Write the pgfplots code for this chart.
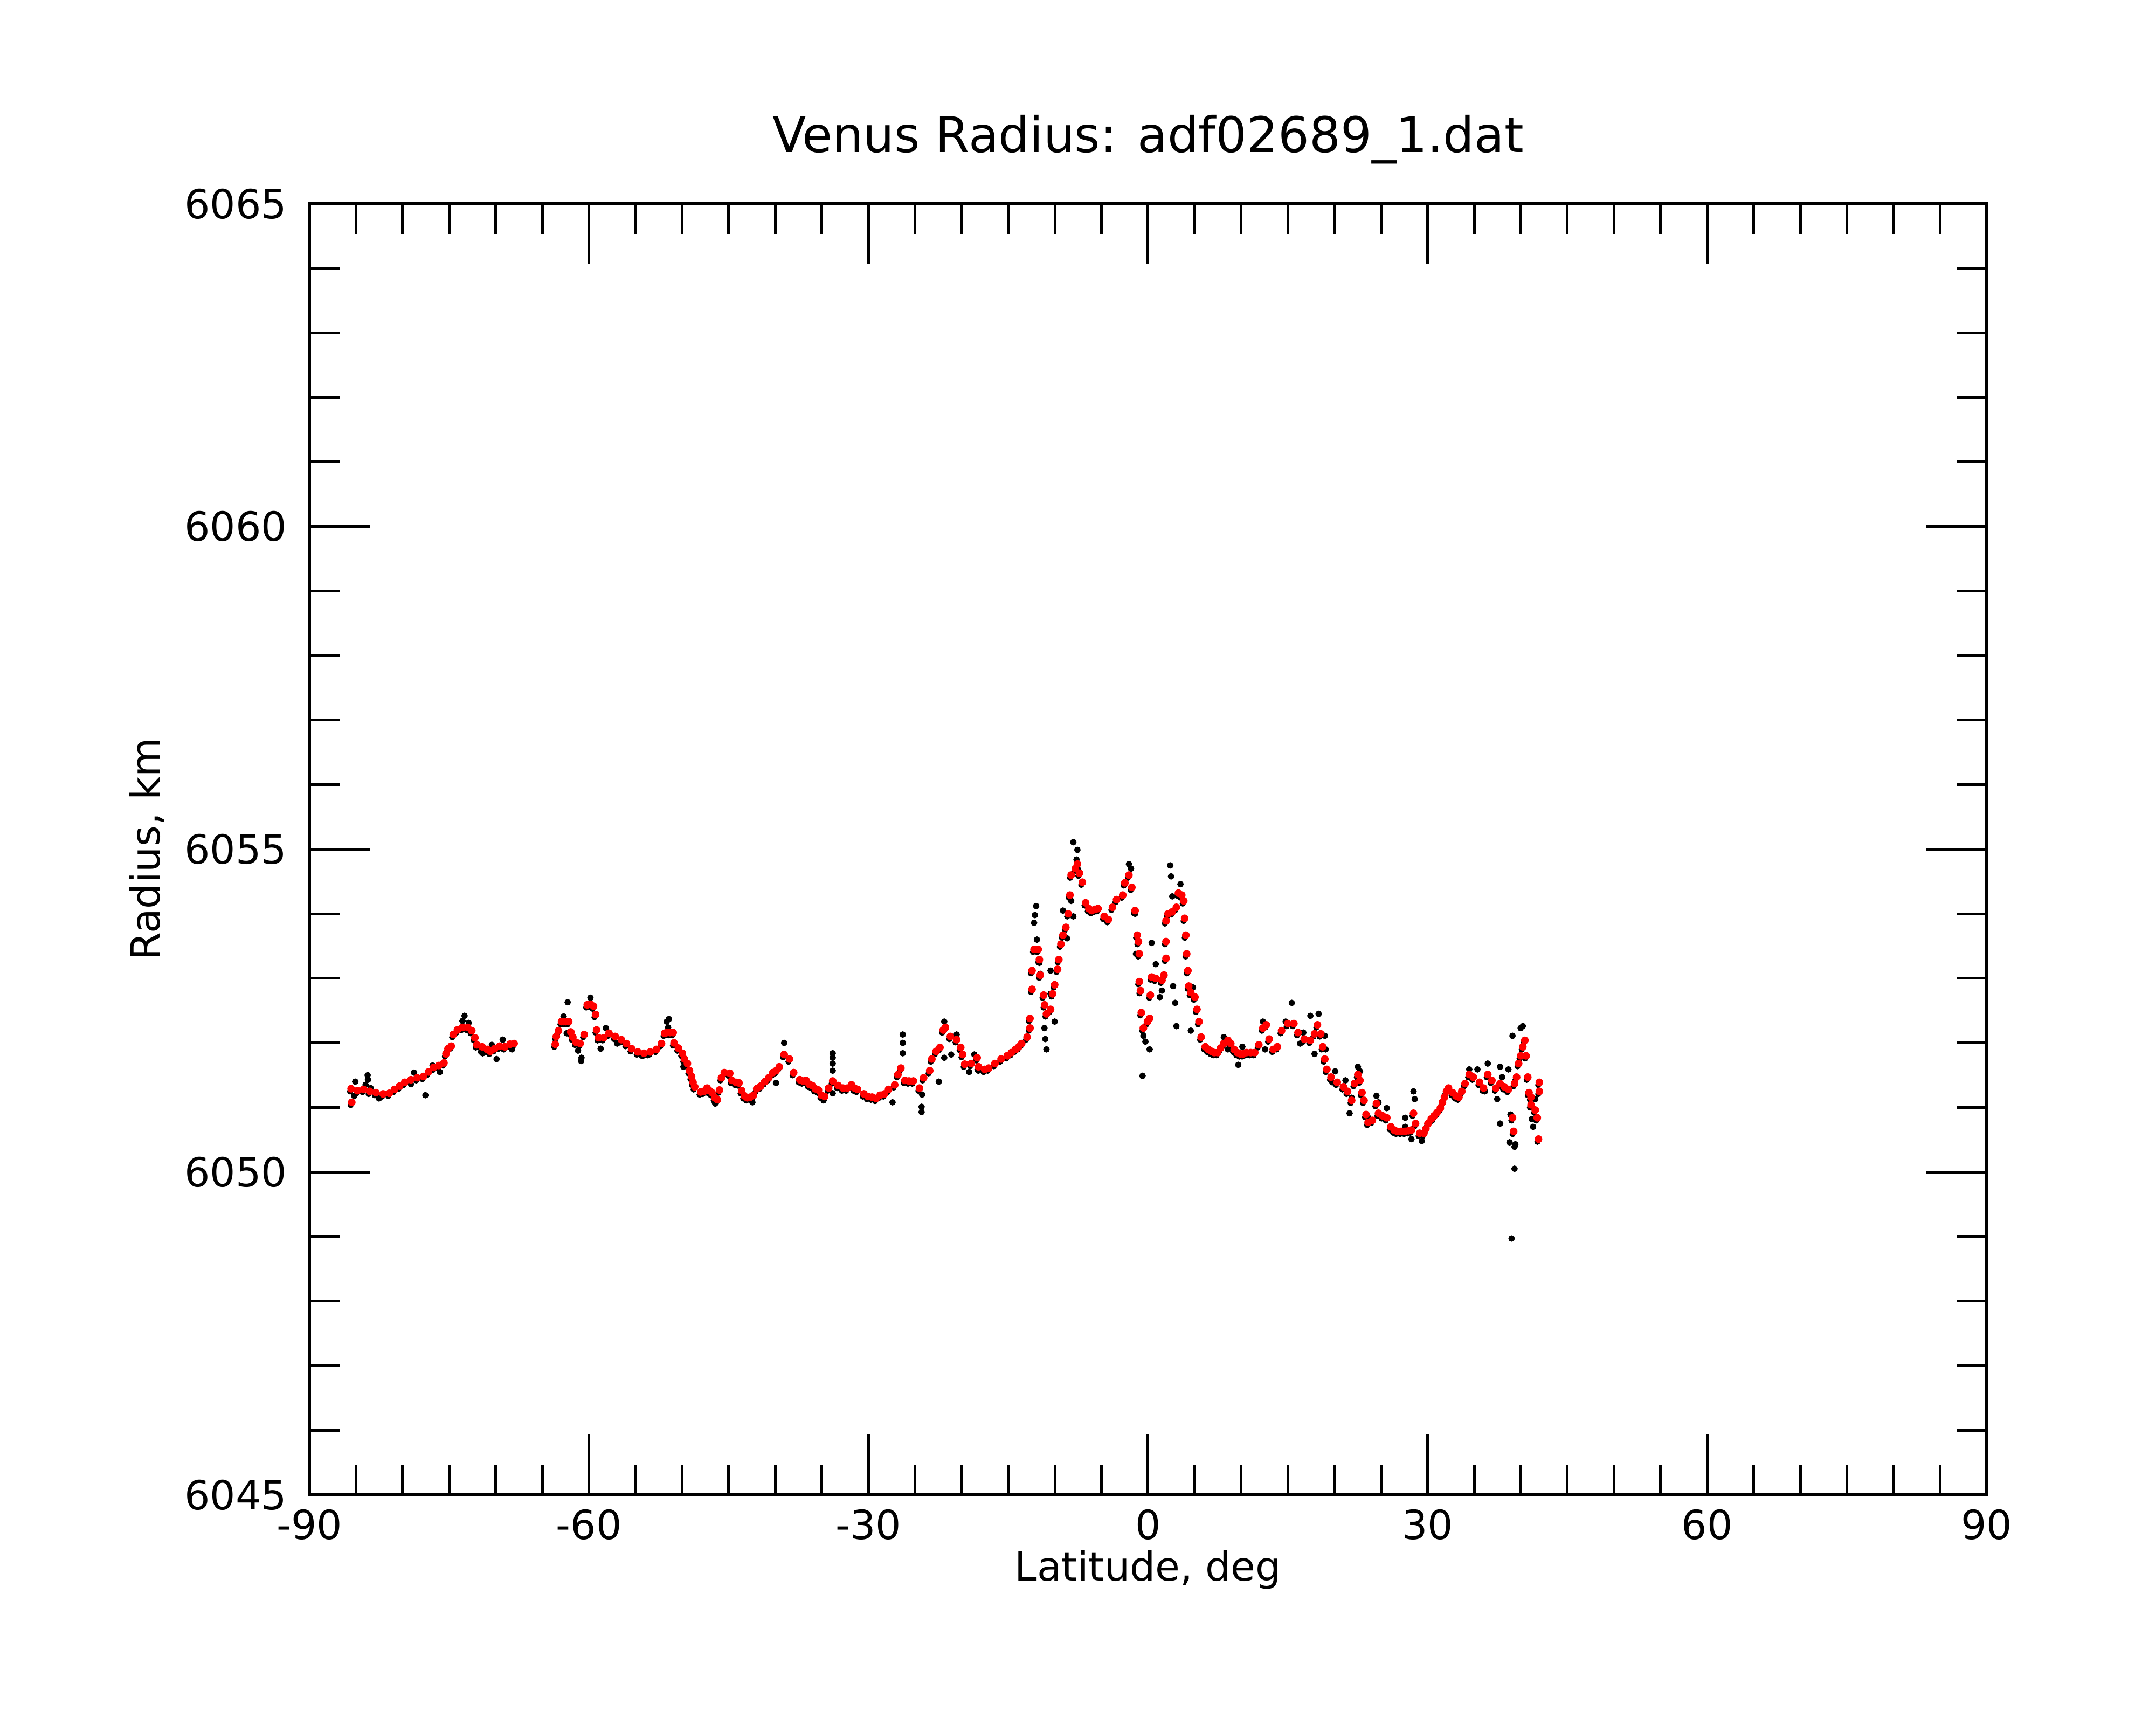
\documentclass[border=0pt]{standalone}
\usepackage{fontspec}
\setmainfont{DejaVu Sans}
\usepackage{pgfplots}
\usepackage{pgfplotstable}
\pgfplotsset{compat=1.18}
\pgfplotstableread{
lat r
-85.45 6051.08
-85.52 6051.29
-84.85 6051.26
-84.19 6051.28
-83.53 6051.25
-82.86 6051.23
-82.09 6051.21
-81.42 6051.22
-80.87 6051.28
-80.32 6051.33
-79.77 6051.39
-79.10 6051.43
-78.43 6051.46
-77.77 6051.48
-77.22 6051.55
-76.67 6051.62
-76.11 6051.65
-75.56 6051.69
-75.34 6051.83
-75.12 6051.91
-74.78 6051.95
-74.56 6052.13
-74.12 6052.20
-73.57 6052.24
-73.01 6052.24
-72.57 6052.19
-72.24 6052.08
-72.02 6051.97
-71.46 6051.94
-70.91 6051.90
-70.58 6051.87
-70.13 6051.91
-69.58 6051.95
-69.03 6051.94
-68.47 6051.98
-68.03 6051.99
-63.61 6051.98
-63.50 6052.10
-63.27 6052.19
-62.94 6052.33
-62.72 6052.33
-62.50 6052.33
-62.17 6052.33
-61.95 6052.17
-61.73 6052.09
-61.39 6052.01
-60.95 6051.99
-60.51 6052.13
-60.18 6052.59
-59.85 6052.60
-59.51 6052.57
-59.29 6052.44
-59.18 6052.20
-58.96 6052.08
-58.41 6052.08
-57.85 6052.15
-57.19 6052.10
-56.52 6052.05
-55.97 6051.99
-55.42 6051.91
-54.75 6051.86
-54.09 6051.84
-53.42 6051.86
-52.76 6051.90
-52.21 6051.99
-51.88 6052.15
-51.65 6052.16
-51.30 6052.16
-50.96 6052.16
-50.87 6052.00
-50.40 6051.92
-49.98 6051.84
-49.76 6051.75
-49.43 6051.68
-49.21 6051.57
-48.99 6051.48
-48.83 6051.39
-48.65 6051.32
-48.01 6051.24
-47.66 6051.25
-47.32 6051.30
-47.06 6051.26
-46.80 6051.23
-46.49 6051.15
-46.22 6051.12
-45.99 6051.27
-45.78 6051.46
-45.47 6051.54
-44.89 6051.53
-44.66 6051.42
-44.23 6051.39
-43.90 6051.38
-43.61 6051.26
-43.33 6051.18
-43.01 6051.15
-42.69 6051.16
-42.35 6051.19
-41.99 6051.29
-41.57 6051.33
-41.13 6051.40
-40.69 6051.46
-40.26 6051.54
-39.91 6051.57
-39.57 6051.63
-39.05 6051.82
-38.47 6051.75
-38.03 6051.54
-37.37 6051.43
-37.04 6051.41
-36.70 6051.42
-36.37 6051.36
-36.04 6051.34
-35.71 6051.29
-35.37 6051.27
-35.04 6051.19
-34.71 6051.17
-34.27 6051.30
-33.84 6051.41
-33.26 6051.34
-32.74 6051.30
-32.28 6051.30
-31.82 6051.35
-31.50 6051.30
-31.18 6051.28
-30.49 6051.21
-30.06 6051.17
-29.62 6051.16
-29.18 6051.14
-28.75 6051.19
-28.29 6051.21
-27.85 6051.28
-27.19 6051.35
-26.84 6051.51
-26.52 6051.61
-26.09 6051.42
-25.65 6051.41
-25.19 6051.41
-24.53 6051.30
-24.08 6051.46
-23.43 6051.57
-23.20 6051.75
-22.74 6051.87
-22.33 6051.93
-21.98 6052.20
-21.75 6052.24
-21.21 6052.10
-20.54 6052.05
-20.10 6051.93
-19.90 6051.82
-19.67 6051.67
-18.98 6051.68
-18.34 6051.77
-18.20 6051.63
-17.54 6051.59
-17.10 6051.61
-16.43 6051.68
-15.77 6051.75
-15.11 6051.80
-14.66 6051.85
-14.22 6051.90
-13.87 6051.94
-13.56 6051.99
-12.98 6052.09
-12.67 6052.23
-12.67 6052.38
-12.45 6052.83
-12.45 6053.12
-12.23 6053.45
-11.79 6053.45
-11.66 6053.29
-11.57 6053.05
-11.21 6052.74
-11.10 6052.59
-10.90 6052.45
-10.46 6052.52
-10.24 6052.76
-10.02 6052.90
-9.71 6053.14
-9.57 6053.29
-9.35 6053.53
-9.13 6053.67
-8.82 6053.79
-8.56 6054.00
-8.38 6054.29
-8.25 6054.60
-7.80 6054.70
-7.58 6054.77
-7.36 6054.63
-7.05 6054.49
-6.70 6054.17
-6.35 6054.08
-6.03 6054.05
-5.70 6054.07
-5.37 6054.08
-4.71 6053.96
-4.26 6053.91
-3.82 6054.10
-3.38 6054.22
-2.71 6054.29
-2.49 6054.48
-2.05 6054.60
-1.74 6054.41
-1.39 6054.05
-1.16 6053.67
-1.03 6053.57
-0.94 6053.38
-0.94 6052.95
-0.81 6052.81
-0.72 6052.47
-0.50 6052.23
-0.06 6052.33
0.17 6052.38
0.25 6052.74
0.39 6053.02
0.83 6053.00
1.49 6052.97
1.71 6053.05
1.93 6053.31
1.93 6053.57
1.93 6053.89
2.15 6054.00
2.60 6054.03
3.04 6054.10
3.26 6054.32
3.62 6054.29
3.84 6054.20
3.93 6053.93
4.06 6053.67
4.15 6053.38
4.28 6053.12
4.37 6052.88
4.59 6052.78
5.03 6052.71
5.25 6052.52
5.47 6052.33
5.70 6052.09
6.14 6051.94
6.45 6051.90
6.80 6051.87
7.11 6051.85
7.47 6051.85
7.78 6051.92
8.13 6051.99
8.57 6052.04
8.88 6051.99
9.24 6051.90
9.59 6051.85
9.90 6051.83
10.21 6051.83
10.57 6051.85
11.01 6051.85
11.45 6051.85
11.89 6051.97
12.33 6052.23
12.69 6052.28
13.00 6052.06
13.44 6051.90
13.88 6051.94
14.33 6052.19
14.99 6052.30
15.65 6052.30
16.10 6052.16
16.76 6052.06
17.42 6052.04
17.87 6052.14
18.18 6052.28
18.53 6052.14
18.75 6051.94
18.97 6051.75
19.19 6051.59
19.64 6051.47
20.30 6051.39
20.97 6051.32
21.41 6051.25
21.85 6051.11
22.16 6051.37
22.52 6051.51
22.74 6051.42
22.96 6051.23
23.18 6051.11
23.40 6050.89
23.62 6050.77
24.07 6050.80
24.51 6051.06
24.73 6050.91
25.17 6050.87
25.62 6050.84
26.06 6050.70
26.41 6050.65
26.72 6050.63
27.16 6050.63
27.60 6050.63
27.96 6050.64
28.27 6050.65
28.49 6050.91
28.71 6050.75
29.15 6050.60
29.60 6050.60
29.82 6050.67
30.04 6050.75
30.39 6050.82
30.70 6050.87
31.01 6050.92
31.37 6050.99
31.59 6051.08
31.81 6051.16
32.03 6051.25
32.25 6051.30
32.69 6051.23
33.05 6051.18
33.36 6051.16
33.67 6051.25
34.02 6051.37
34.47 6051.51
34.91 6051.47
35.57 6051.39
36.01 6051.30
36.46 6051.51
36.90 6051.42
37.34 6051.30
37.78 6051.37
38.23 6051.32
38.67 6051.28
39.11 6050.84
39.24 6050.63
39.33 6051.37
39.55 6051.47
39.77 6051.68
39.99 6051.80
40.22 6051.94
40.44 6052.04
40.57 6051.80
40.75 6051.47
40.88 6051.23
41.10 6051.16
41.10 6051.04
41.55 6050.96
41.77 6050.84
41.90 6050.51
41.99 6051.39
41.99 6051.25
}\redtab
\pgfplotstableread{
lat r
-85.08 6051.40
-85.19 6051.18
-83.75 6051.50
-83.71 6051.43
-83.97 6051.35
-83.42 6051.30
-82.53 6051.14
-78.77 6051.54
-79.10 6051.36
-77.55 6051.19
-76.78 6051.65
-76.00 6051.55
-73.35 6052.42
-73.57 6052.34
-72.90 6052.31
-71.57 6051.86
-71.40 6051.84
-69.91 6051.75
-70.42 6051.97
-69.25 6052.05
-68.26 6051.90
-62.28 6052.63
-62.72 6052.41
-62.39 6052.15
-61.17 6051.88
-60.84 6051.72
-60.80 6051.77
-59.84 6052.70
-58.74 6051.91
-58.18 6052.23
-56.97 6051.99
-54.31 6051.80
-53.70 6051.81
-51.65 6052.33
-51.50 6052.24
-51.42 6052.37
-49.86 6051.63
-46.45 6051.06
-42.46 6051.08
-39.92 6051.38
-39.05 6052.00
-34.82 6051.11
-33.84 6051.84
-33.84 6051.77
-33.84 6051.68
-33.84 6051.57
-33.84 6051.22
-27.42 6051.08
-26.32 6052.13
-26.32 6052.00
-26.32 6051.84
-24.30 6051.01
-24.30 6050.93
-24.25 6051.20
-22.45 6051.40
-21.87 6052.33
-21.87 6051.77
-21.12 6051.82
-20.54 6052.13
-19.20 6051.55
-18.22 6051.57
-18.65 6051.82
-12.01 6054.12
-12.14 6053.98
-12.23 6053.86
-11.92 6053.60
-11.66 6053.24
-11.57 6053.07
-11.12 6052.23
-11.03 6052.06
-10.90 6051.90
-10.46 6053.12
-10.46 6052.76
-10.02 6052.33
-9.13 6054.05
-8.69 6053.62
-8.02 6055.11
-7.58 6054.99
-7.67 6054.84
-7.49 6054.68
-8.25 6054.20
-8.02 6053.96
-2.05 6054.77
-1.83 6054.70
-1.39 6054.00
-1.30 6053.38
-0.50 6052.11
-0.28 6052.02
0.17 6051.90
-0.59 6051.49
0.39 6053.55
0.83 6053.22
1.49 6052.81
1.27 6052.71
2.69 6052.88
2.91 6052.62
3.04 6052.26
2.38 6054.75
2.47 6054.58
3.48 6054.46
2.60 6054.27
4.59 6052.19
4.81 6052.86
5.03 6052.69
6.58 6051.85
8.13 6052.09
8.57 6051.90
9.68 6051.66
10.12 6051.94
10.34 6051.83
12.33 6052.33
12.56 6051.90
15.43 6052.62
14.77 6052.33
16.32 6051.99
16.67 6052.16
17.42 6052.42
17.87 6051.83
18.31 6052.45
18.97 6052.11
19.06 6051.90
19.77 6051.39
20.08 6051.56
21.19 6051.42
21.63 6050.91
21.85 6051.15
22.52 6051.63
22.74 6051.56
23.62 6050.84
24.51 6051.18
24.73 6051.08
25.62 6050.99
27.60 6050.84
27.60 6050.70
28.49 6051.25
28.62 6051.13
28.27 6050.51
29.38 6050.48
30.48 6050.80
32.25 6051.27
34.47 6051.59
35.35 6051.59
36.15 6051.25
36.46 6051.68
37.78 6051.63
38.00 6051.47
37.47 6051.13
37.78 6050.75
38.80 6050.46
39.42 6050.43
39.33 6050.39
39.33 6050.05
39.02 6048.97
39.11 6052.11
39.99 6052.23
40.22 6052.26
38.90 6050.89
41.32 6050.70
41.19 6050.82
41.55 6051.13
38.67 6051.59
}\blacktab
\begin{document}
\begin{tikzpicture}
\path[use as bounding box] (0,0) rectangle (400pt,320pt);
\begin{axis}[
  at={(57.4pt,42.7pt)}, anchor=south west,
  scale only axis, width=311.2pt, height=239.5pt,
  xmin=-90, xmax=90, ymin=6045, ymax=6065,
  xtick={-90,-60,-30,0,30,60,90},
  xticklabels={-90,-60,-30,0,30,60,90},
  ytick={6045,6050,6055,6060,6065},
  yticklabels={6045,6050,6055,6060,6065},
  minor x tick num=5, minor y tick num=4,
  major tick length=11.2pt, minor tick length=5.6pt,
  tick align=inside,
  tick style={black, line width=0.5pt},
  axis line style={black, line width=0.6pt},
  tick label style={font=\fontsize{7.45}{9}\selectfont},
  xticklabel style={inner sep=0pt, anchor=north, yshift=-2.5pt},
  yticklabel style={inner sep=0pt, anchor=east, xshift=-4pt},
  title={Venus Radius: adf02689\_1.dat},
  title style={font=\fontsize{9.1}{11}\selectfont, at={(axis description cs:0.5,1.0150)}, anchor=base, inner sep=0pt},
  xlabel={Latitude, deg},
  xlabel style={font=\fontsize{7.45}{9}\selectfont, at={(axis description cs:0.5,-0.0668)}, anchor=base, inner sep=0pt},
  ylabel={Radius, km},
  ylabel style={font=\fontsize{7.45}{9}\selectfont, at={(axis description cs:-0.0893,0.5)}, anchor=base, inner sep=0pt},
]
\addplot[black, only marks, mark=*, mark size=0.52pt, mark options={draw=black, fill=black, line width=0.1pt}, yshift=-0.5pt, xshift=-0.2pt] table[x=lat, y=r] {\redtab};
\addplot[black, only marks, mark=*, mark size=0.55pt, mark options={draw=black, fill=black, line width=0.1pt}] table[x=lat, y=r] {\blacktab};
\addplot[red, only marks, mark=*, mark size=0.66pt, mark options={draw=red, fill=red, line width=0.1pt}] table[x=lat, y=r] {\redtab};
\end{axis}
\end{tikzpicture}
\end{document}
